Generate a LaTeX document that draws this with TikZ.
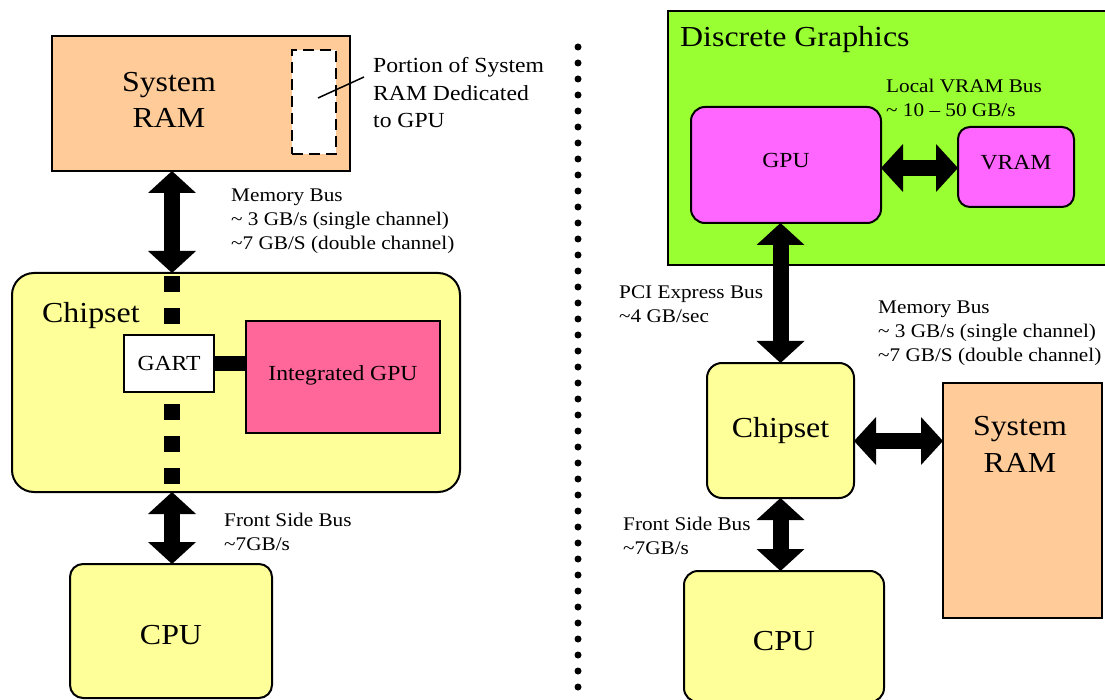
\documentclass[tikz,border=0pt]{standalone}
\usepackage{fontspec}
\setmainfont{Liberation Serif}[FakeStretch=1.1]
\usetikzlibrary{arrows.meta}
\definecolor{peach}{HTML}{FFCC99}
\definecolor{pyellow}{HTML}{FFFF99}
\definecolor{ipink}{HTML}{FF6699}
\definecolor{magent}{HTML}{FF66FF}
\definecolor{lgreen}{HTML}{99FF33}
\newcommand\fsz[2]{\fontsize{#1}{#2}\selectfont}
\begin{document}
\begin{tikzpicture}[x=1pt,y=-1pt,
  box/.style={draw=black, line width=2pt, inner sep=0pt, outer sep=0pt, align=center},
  rbox/.style={box, rounded corners=#1},
  big/.style={font=\fsz{29}{36.5}},
  mid/.style={font=\fsz{21.5}{27.5}},
  lab/.style={font=\fsz{19.3}{24}, align=left, anchor=base west, inner sep=0pt},
  bus/.style={line width=16pt, {Triangle[length=22pt,width=48pt,line width=0pt]}-{Triangle[length=22pt,width=48pt,line width=0pt]}},
]
\useasboundingbox (0,0) rectangle (1105,700);

% ---------- left: integrated graphics ----------
\node[box, fill=peach, minimum width=298pt, minimum height=135pt] (ramL) at (201,103.5) {};
\node[big, align=center, anchor=base, inner sep=0pt] (ramLt) at (169,128) {System\\RAM};
\node[box, fill=white, dash pattern=on 11pt off 6pt, minimum width=44pt, minimum height=104pt] (dash) at (314,102) {};
\node[font=\fsz{21.5}{27.5}, align=left, anchor=base west, inner sep=0pt] (portion) at (373,128) {Portion of System\\RAM Dedicated\\to GPU};
\coordinate (leadA) at (318,98);
\coordinate (leadB) at (364,77);
\draw[line width=1.5pt] (leadA) -- (leadB);

\node[rbox=22pt, fill=pyellow, minimum width=448pt, minimum height=219pt] (chipL) at (236,382.5) {};
\node[big, anchor=base west, inner sep=0pt] (chipLt) at (42,323) {Chipset};
\coordinate (busL) at (172,0);
\draw[line width=16pt, dash pattern=on 16pt off 16pt, dash phase=29pt] (chipL.north -| busL) -- (chipL.south -| busL);
\node[box, fill=white, mid, minimum width=90pt, minimum height=57pt] (gart) at (169,363.5) {GART};
\node[box, fill=ipink, mid, minimum width=194pt, minimum height=112pt, text depth=8pt] (igpu) at (343,377) {Integrated GPU};
\draw[line width=15pt] (gart.east) -- (gart.east -| igpu.west);

\node[rbox=13pt, fill=pyellow, big, minimum width=202pt, minimum height=134pt, text height=27pt] (cpuL) at (171,631) {CPU};

\draw[bus] (ramL.south -| busL) -- (chipL.north -| busL);
\draw[bus] (chipL.south -| busL) -- (cpuL.north -| busL);

\node[lab] (memL) at (231,250) {Memory Bus\\\textasciitilde{} 3 GB/s (single channel)\\\textasciitilde7 GB/S (double channel)};
\node[lab] (fsbL) at (224,550) {Front Side Bus\\\textasciitilde7GB/s};

% ---------- separator ----------
\coordinate (sepA) at (578,47);
\coordinate (sepB) at (578,688);
\draw[line width=7pt, line cap=round, dash pattern=on 0pt off 16pt] (sepA) -- (sepB);

% ---------- right: discrete graphics ----------
\node[box, fill=lgreen, minimum width=442pt, minimum height=254pt] (dg) at (889,138) {};
\node[big, anchor=base west, inner sep=0pt] (dgt) at (680,47) {Discrete Graphics};
\node[rbox=14pt, fill=magent, mid, minimum width=190pt, minimum height=116pt, text depth=10pt] (gpu) at (786,165) {GPU};
\node[rbox=12pt, fill=magent, mid, minimum width=116pt, minimum height=80pt, text depth=10pt] (vram) at (1016,167) {VRAM};
\coordinate (vbus) at (0,168);
\draw[bus] (gpu.east |- vbus) -- (vram.west |- vbus);
\node[lab] (vramt) at (886,117) {Local VRAM Bus\\\textasciitilde{} 10 -- 50 GB/s};

\node[rbox=15pt, fill=pyellow, big, minimum width=147pt, minimum height=135pt] (chipR) at (780.5,430.5) {Chipset};
\node[box, fill=peach, minimum width=159pt, minimum height=235pt] (ramR) at (1022.5,500.5) {};
\node[big, align=center, anchor=base, inner sep=0pt] (ramRt) at (1020,472) {System\\RAM};
\node[rbox=14pt, fill=pyellow, big, minimum width=200pt, minimum height=131pt, text height=29pt] (cpuR) at (784,636.5) {CPU};

\coordinate (mbus) at (0,441);
\draw[bus] (gpu.south -| chipR.north) -- (chipR.north);
\draw[bus] (chipR.east |- mbus) -- (ramR.west |- mbus);
\draw[bus] (chipR.south) -- (chipR.south |- cpuR.north);

\node[lab] (pcit) at (619,323) {PCI Express Bus\\\textasciitilde4 GB/sec};
\node[lab] (memR) at (878,362) {Memory Bus\\\textasciitilde{} 3 GB/s (single channel)\\\textasciitilde7 GB/S (double channel)};
\node[lab] (fsbR) at (623,554) {Front Side Bus\\\textasciitilde7GB/s};
\end{tikzpicture}
\end{document}
